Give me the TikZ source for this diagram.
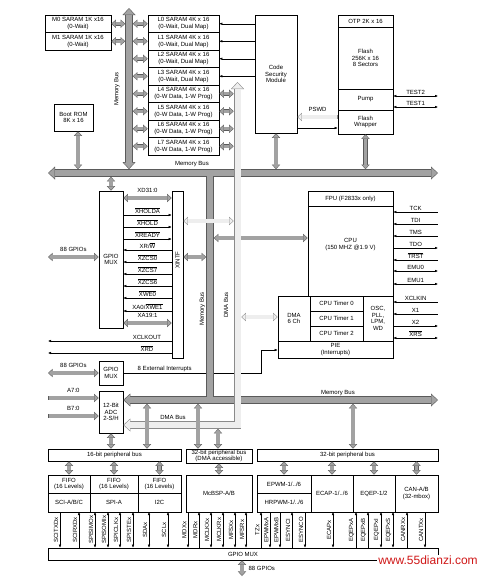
\documentclass[tikz,border=0pt]{standalone}
\usepackage{fontspec}
\setmainfont{Liberation Sans}
\usetikzlibrary{arrows.meta,calc}
\definecolor{busfill}{HTML}{A2A2A2}
\definecolor{busedge}{HTML}{5A5A5A}
\definecolor{dmafill}{HTML}{EEEEEE}
\definecolor{dmaedge}{HTML}{8A8A8A}
\definecolor{wmred}{HTML}{D01818}
\newcommand{\tinyfs}{\fontsize{6}{6.6}\selectfont}
\newcommand{\ovl}[1]{$\overline{\mbox{#1}}$}
\tikzset{
  box/.style={rectangle, draw, line width=0.6pt, align=center, inner sep=0pt,
              font=\tinyfs, fill=white},
  sram/.style={box, minimum width=71pt, minimum height=17.5pt},
  lbl/.style={font=\tinyfs, inner sep=1pt},
  vlbl/.style={font=\tinyfs, inner sep=1pt, rotate=90},
  sg/.tip={Latex[length=3pt,width=2.6pt]},
  bO/.tip={Triangle[length=7pt,width=13pt,line width=0pt 0 0]},
  bI/.tip={Triangle[length=5.8pt,width=11pt,line width=0pt 0 0]},
  sO/.tip={Triangle[length=4.6pt,width=8.4pt,line width=0pt 0 0]},
  sI/.tip={Triangle[length=3.7pt,width=6.6pt,line width=0pt 0 0]},
  sigE/.style={line width=0.5pt, -sg},
  sigS/.style={line width=0.5pt, sg-},
  sigB/.style={line width=0.5pt, sg-sg},
  mbus/.style={draw=busfill, line width=6pt, bI-bI, shorten <=0.9pt, shorten >=0.9pt,
               preaction={draw=busedge, line width=7.6pt, bO-bO, shorten <=0pt, shorten >=0pt}},
  mbusplain/.style={draw=busfill, line width=6pt, preaction={draw=busedge, line width=7.6pt}},
  busjoin/.style={draw=busfill, line width=6pt},
  mdma/.style={draw=dmafill, line width=6pt, bI-bI, shorten <=0.9pt, shorten >=0.9pt,
               preaction={draw=dmaedge, line width=7.6pt, bO-bO, shorten <=0pt, shorten >=0pt}},
  sbus/.style={draw=busfill, line width=3.2pt, sI-sI, shorten <=0.7pt, shorten >=0.7pt,
               preaction={draw=busedge, line width=4.4pt, sO-sO, shorten <=0pt, shorten >=0pt}},
  sbusr/.style={draw=busfill, line width=3.2pt, -sI, shorten <=0.6pt, shorten >=0.7pt,
                preaction={draw=busedge, line width=4.4pt, -sO, shorten <=0pt, shorten >=0pt}},
  sdma/.style={draw=dmafill, line width=3.2pt, sI-sI, shorten <=0.7pt, shorten >=0.7pt,
               preaction={draw=dmaedge, line width=4.4pt, sO-sO, shorten <=0pt, shorten >=0pt}},
  sdmar/.style={draw=dmafill, line width=3.2pt, -sI, shorten <=0.6pt, shorten >=0.7pt,
                preaction={draw=dmaedge, line width=4.4pt, -sO, shorten <=0pt, shorten >=0pt}},
}

\begin{document}
\begin{tikzpicture}[x=1pt,y=-1pt]
\useasboundingbox (0,0) rectangle (487,579);

% memories
\node[box, minimum width=66pt, minimum height=17.5pt] (m0) at (78,23.75) {M0 SARAM 1K x16\\(0-Wait)};
\node[box, minimum width=66pt, minimum height=17.5pt] (m1) at (78,41.25) {M1 SARAM 1K x16\\(0-Wait)};
\foreach \i in {0,...,3}
  \node[sram] (l\i) at (183.5,23.75+17.5*\i) {L\i\ SARAM 4K x 16\\(0-Wait, Dual Map)};
\foreach \i in {4,...,7}
  \node[sram] (l\i) at (183.5,23.75+17.5*\i) {L\i\ SARAM 4K x 16\\(0-W Data, 1-W Prog)};
\node[box, minimum width=42pt, minimum height=118pt] (csm) at (276,74) {Code\\Security\\Module};
\node[box, minimum width=55pt, minimum height=12pt] (otp) at (365.5,21) {OTP 2K x 16};
\node[box, minimum width=55pt, minimum height=62pt] (flash) at (365.5,58) {Flash\\256K x 16\\8 Sectors};
\node[box, minimum width=55pt, minimum height=21pt] (pump) at (365.5,99.5) {Pump};
\node[box, minimum width=55pt, minimum height=24pt] (wrap) at (365.5,122) {Flash\\Wrapper};
\node[box, minimum width=39pt, minimum height=27pt] (boot) at (73.5,117.5) {Boot ROM\\8K x 16};

% external interface
\node[box, minimum width=24pt, minimum height=137pt] (gpio) at (111,259.5) {GPIO\\MUX};
\node[box, minimum width=11pt, minimum height=167pt] (xintf) at (177.5,274.5) {};
\node[vlbl] at (177.5,260) {XINTF};

% cpu
\node[box, minimum width=85pt, minimum height=15pt] (fpu) at (350.5,198.5) {FPU (F2833x only)};
\node[box, minimum width=85pt, minimum height=90pt] (cpu) at (350.5,251) {CPU\\(150 MHZ @1.9 V)\\[7pt]};
\node[box, minimum width=32pt, minimum height=45pt] (dma) at (294,318.5) {DMA\\6 Ch};
\foreach \i in {0,1,2}
  \node[box, minimum width=53pt, minimum height=15pt] (tmr\i) at (336.5,303.5+15*\i) {CPU Timer \i};
\node[box, minimum width=30pt, minimum height=45pt] (osc) at (378,318.5) {OSC,\\PLL,\\LPM,\\WD};
\node[box, minimum width=115pt, minimum height=17pt] (pie) at (335.5,349.5) {PIE\\(Interrupts)};

\node[box, minimum width=24pt, minimum height=24pt] (gpio2) at (111,373) {GPIO\\MUX};
\node[box, minimum width=24pt, minimum height=42pt] (adc) at (111,412) {12-Bit\\ADC\\2-S/H};

% peripherals
\node[box, minimum width=133pt, minimum height=12pt] (pb16) at (114.5,455) {16-bit peripheral bus};
\node[box, minimum width=66pt, minimum height=14pt] (pb32d) at (219,456) {32-bit peripheral bus\\(DMA accessible)};
\node[box, minimum width=181pt, minimum height=12pt] (pb32) at (347.5,455) {32-bit peripheral bus};
\node[box, minimum width=42pt, minimum height=18pt] (scif) at (69,484) {FIFO\\(16 Levels)};
\node[box, minimum width=42pt, minimum height=19pt] (sci) at (69,502.5) {SCI-A/B/C};
\node[box, minimum width=48pt, minimum height=18pt] (spif) at (114,484) {FIFO\\(16 Levels)};
\node[box, minimum width=48pt, minimum height=19pt] (spi) at (114,502.5) {SPI-A};
\node[box, minimum width=43pt, minimum height=18pt] (i2cf) at (159.5,484) {FIFO\\(16 Levels)};
\node[box, minimum width=43pt, minimum height=19pt] (i2c) at (159.5,502.5) {I2C};
\node[box, minimum width=66pt, minimum height=37pt] (mcbsp) at (219,493.5) {McBSP-A/B};
\node[box, minimum width=54pt, minimum height=18pt] (epwm) at (284,484) {EPWM-1/../6};
\node[box, minimum width=54pt, minimum height=19pt] (hrpwm) at (284,502.5) {HRPWM-1/../6};
\node[box, minimum width=42pt, minimum height=37pt] (ecap) at (332,493.5) {ECAP-1/../6};
\node[box, minimum width=42pt, minimum height=37pt] (eqep) at (374,493.5) {EQEP-1/2};
\node[box, minimum width=43pt, minimum height=37pt] (can) at (416.5,493.5) {CAN-A/B\\(32-mbox)};
\node[box, minimum width=390pt, minimum height=12pt] (gmux) at (243,554) {GPIO MUX};

% free ends
\coordinate (lvtop) at (129,8);
\coordinate (lvbot) at (129,169.2);
\coordinate (lvL) at (125.2,0);
\coordinate (lvR) at (132.8,0);
\coordinate (mbW) at (48,173);
\coordinate (mbE) at (438,173);
\coordinate (mbT) at (0,169.2);
\coordinate (mbB) at (0,176.8);
\coordinate (mvtop) at (210,173);
\coordinate (mvbot) at (210,400);
\coordinate (mvL) at (206.2,0);
\coordinate (mvR) at (213.8,0);
\coordinate (dmatop) at (237.5,82);
\coordinate (dmacorner) at (237.5,425);
\coordinate (dmaL) at (233.7,0);
\coordinate (dmaR) at (241.3,0);
\coordinate (lbE) at (438,400);
\coordinate (lbB) at (0,403.8);
\coordinate (dbB) at (0,428.8);
\coordinate (gl) at (48,0);
\coordinate (jr) at (438,0);
\coordinate (irqbend) at (261,350);
\coordinate (sigtop) at (0,512);
\coordinate (gpout) at (242,576);

% thin signals
\foreach \i in {0,...,3}
  \draw[sigE] (l\i.east -| csm.west) -- (l\i.east);
\draw[sigE] (csm.east |- 0,128) -- (wrap.west |- 0,128);
\draw[sigB] (pump.east |- 0,96) -- (jr |- 0,96) node[lbl, midway, above] {TEST2};
\draw[sigB] (pump.east |- 0,107) -- (jr |- 0,107) node[lbl, midway, above] {TEST1};
\foreach \y/\lab/\st in {215/\ovl{XHOLDA}/sigE, 227/\ovl{XHOLD}/sigE, 239/\ovl{XREADY}/sigE,
    250/{XR/\ovl{W}}/sigS, 262/\ovl{XZCS0}/sigS, 274/\ovl{XZCS7}/sigS, 286/\ovl{XZCS6}/sigS,
    298/\ovl{XWE0}/sigS, 311/{XA0/\ovl{XWE1}}/sigS}
  \draw[\st] (gpio.east |- 0,\y) -- (xintf.west |- 0,\y) node[lbl, midway, above] {\lab};
\draw[sigE] (xintf.west |- 0,341) -- (gl |- 0,341) node[lbl, above, pos=0.2] {XCLKOUT};
\draw[sigE] (xintf.west |- 0,353) -- (gl |- 0,353) node[lbl, above, pos=0.2] {\ovl{XRD}};
\foreach \y/\lab/\st in {212/TCK/sigS, 224/TDI/sigS, 236/TMS/sigS, 248/TDO/sigE,
    260/\ovl{TRST}/sigS, 271/EMU0/sigB, 284/EMU1/sigB}
  \draw[\st] (cpu.east |- 0,\y) -- (jr |- 0,\y) node[lbl, midway, above] {\lab};
\foreach \y/\lab/\st in {302/XCLKIN/sigS, 314/X1/sigS, 326/X2/sigE, 338/\ovl{XRS}/sigB}
  \draw[\st] (osc.east |- 0,\y) -- (jr |- 0,\y) node[lbl, midway, above] {\lab};
\draw[sigE] (gpio2.east) -| node[lbl, above, pos=0.15] {8 External Interrupts} (irqbend) -- (pie.west |- irqbend);
\foreach \x/\lab/\st in {60/SCITXDx/sigE, 79/SCIRXDx/sigS, 95/SPISIMOx/sigB, 108/SPISOMIx/sigB,
    120/SPICLKx/sigB, 133/SPISTEx/sigB, 149/SDAx/sigB, 168/SCLx/sigB,
    188/MDXx/sigE, 199/MDRx/sigS, 211/MCLKXx/sigB, 223/MCLKRx/sigB, 235/MFSXx/sigB, 246/MFSRx/sigB,
    261/TZx/sigS, 270/EPWMxA/sigE, 280/EPWMxB/sigE, 292/ESYNCI/sigS, 305/ESYNCO/sigE,
    333/ECAPx/sigB, 356/EQEPxA/sigS, 368/EQEPxB/sigS, 381/EQEPxI/sigB, 393/EQEPxS/sigB,
    407/CANRXx/sigS, 425/CANTXx/sigE}
  \draw[\st] (sigtop -| \x,0) -- (gmux.north -| \x,0)
    node[vlbl, midway, anchor=south, inner sep=1.5pt] {\lab};

% memory buses
\draw[mbusplain] (mvtop) -- (mvbot);
\draw[mbus] (mbW) -- (mbE);
\draw[mbus] (adc.east |- mvbot) -- (lbE);
\draw[busjoin] (mvtop) -- (mvbot);
\draw[mbus] (lvtop) -- (lvbot);
\draw[sbus] (m0.east) -- (m0.east -| lvL);
\draw[sbus] (m1.east) -- (m1.east -| lvL);
\foreach \i in {0,...,7}
  \draw[sbus] (lvR |- l\i.west) -- (l\i.west);
\draw[sbus] (boot.south -| 78,0) -- (mbT -| 78,0);
\draw[sbus] (csm.south) -- (csm.south |- mbT);
\draw[sbus] (wrap.south) -- (wrap.south |- mbT);
\draw[sbus] (gpio.north |- mbB) -- (gpio.north);
\draw[sbus] (gpio.east |- 0,198) -- (xintf.west |- 0,198) node[lbl, midway, above=2.5pt] {XD31:0};
\draw[sbus] (gpio.east |- 0,323) -- (xintf.west |- 0,323) node[lbl, midway, above=2.5pt] {XA19:1};
\draw[sbus] (xintf.east |- 0,257) -- (mvL |- 0,257);
\draw[sbus] (mvR |- 0,238) -- (cpu.west |- 0,238);
\draw[sbus] (gl |- 0,257) -- (gpio.west |- 0,257) node[lbl, midway, above=2.5pt] {88 GPIOs};
\draw[sbus] (gl |- gpio2.west) -- (gpio2.west) node[lbl, midway, above=2.5pt] {88 GPIOs};
\draw[sbusr] (gl |- 0,398) -- (adc.west |- 0,398) node[lbl, midway, above=2.5pt] {A7:0};
\draw[sbusr] (gl |- 0,416) -- (adc.west |- 0,416) node[lbl, midway, above=2.5pt] {B7:0};
\draw[sbus] (adc.south) -- (adc.south |- pb16.north);

% dma bus
\draw[mdma] (dmatop) -- (dmacorner) -- (adc.east |- dmacorner);
\foreach \i in {4,...,7}
  \draw[sbus] (l\i.east) -- (l\i.east -| dmaL);
\draw[sdma] (xintf.east |- 0,221) -- (dmaL |- 0,221);
\draw[sdma] (dmaR |- 0,317) -- (dma.west |- 0,317);
\draw[sdmar] (wrap.west |- 0,117) -- (csm.east |- 0,117) node[lbl, midway, above=2.5pt] {PSWD};

% peripheral bus links
\draw[sbus] (lbB -| 147,0) -- (pb16.north -| 147,0);
\draw[sbus] (lbB -| 198,0) -- (pb32d.north -| 198,0);
\draw[sbus] (dbB -| 218,0) -- (pb32d.north -| 218,0);
\draw[sbus] (lbB -| 353,0) -- (pb32.north -| 353,0);
\foreach \n in {scif, spif, i2cf}
  \draw[sbus] (pb16.south -| \n.north) -- (\n.north);
\draw[sbus] (pb32d.south -| mcbsp.north) -- (mcbsp.north);
\foreach \n in {epwm, ecap, eqep, can}
  \draw[sbus] (pb32.south -| \n.north) -- (\n.north);
\draw[sbus] (gmux.south -| gpout) -- (gpout) node[lbl, midway, right=4pt] {88 GPIOs};

% bus labels
\node[lbl] at (192,164) {Memory Bus};
\node[vlbl] at (117,89) {Memory Bus};
\node[vlbl] at (202.5,309) {Memory Bus};
\node[vlbl] at (226,305) {DMA Bus};
\node[lbl] at (173,417) {DMA Bus};
\node[lbl] at (338,393) {Memory Bus};

\node[font=\fontsize{12}{14}\selectfont, text=wmred, fill=white, inner sep=1pt] (wm) at (428,560) {www.55dianzi.com};
\end{tikzpicture}
\end{document}
